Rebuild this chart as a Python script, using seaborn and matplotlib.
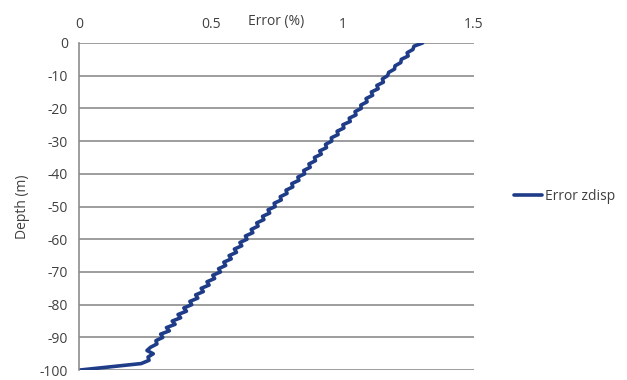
import numpy as np
import pandas as pd
import seaborn as sns
import matplotlib.pyplot as plt

"""
Data read off the chart (depth in m, error in %)
"""
depth = [0, -1, -2, -3, -4, -5, -6, -7, -8, -9,
         -10, -11, -12, -13, -14, -15, -16, -17, -18, -19,
         -20, -21, -22, -23, -24, -25, -26, -27, -28, -29,
         -30, -31, -32, -33, -34, -35, -36, -37, -38, -39,
         -40, -41, -42, -43, -44, -45, -46, -47, -48, -49,
         -50, -51, -52, -53, -54, -55, -56, -57, -58, -59,
         -60, -61, -62, -63, -64, -65, -66, -67, -68, -69,
         -70, -71, -72, -73, -74, -75, -76, -77, -78, -79,
         -80, -81, -82, -83, -84, -85, -86, -87, -88, -89,
         -90, -91, -92, -93, -94, -95, -96, -97, -98, -100]

error_zdisp = [1.305, 1.272, 1.268, 1.246, 1.250, 1.224, 1.222, 1.200, 1.198, 1.176,
               1.172, 1.152, 1.156, 1.131, 1.136, 1.110, 1.115, 1.090, 1.094, 1.070,
               1.072, 1.048, 1.052, 1.026, 1.030, 1.002, 1.006, 0.980, 0.984, 0.958,
               0.960, 0.936, 0.940, 0.914, 0.920, 0.894, 0.898, 0.873, 0.878, 0.853,
               0.857, 0.831, 0.835, 0.808, 0.812, 0.786, 0.790, 0.764, 0.768, 0.741,
               0.745, 0.718, 0.724, 0.697, 0.702, 0.675, 0.680, 0.654, 0.660, 0.632,
               0.638, 0.611, 0.618, 0.590, 0.598, 0.570, 0.578, 0.550, 0.557, 0.530,
               0.537, 0.508, 0.515, 0.486, 0.494, 0.464, 0.472, 0.443, 0.451, 0.421,
               0.428, 0.398, 0.408, 0.376, 0.386, 0.354, 0.365, 0.332, 0.343, 0.310,
               0.318, 0.292, 0.296, 0.272, 0.258, 0.282, 0.262, 0.266, 0.236, 0.0]

x_ticks = [0, 0.5, 1, 1.5]
y_ticks = [0, -10, -20, -30, -40, -50, -60, -70, -80, -90, -100]

df = pd.DataFrame({'Error (%)': error_zdisp, 'Depth (m)': depth})

sns.set_style('white')
plt.rcParams['font.family'] = ['Open Sans', 'DejaVu Sans']
plt.rcParams['axes.unicode_minus'] = False

fig = plt.figure(figsize=(6.27, 3.8), dpi=100)
ax = fig.add_axes([0.126, 0.026, 0.63, 0.861])

sns.lineplot(data=df, x='Error (%)', y='Depth (m)', sort=False, estimator=None,
             color='#1F3C88', linewidth=2.6, label='Error zdisp', ax=ax)

ax.set_xlim(0, 1.5)
ax.set_ylim(-100, 0)
ax.set_xticks(x_ticks)
ax.set_xticklabels(['0', '0.5', '1', '1.5'])
ax.set_yticks(y_ticks)
ax.xaxis.tick_top()
ax.xaxis.set_label_position('top')
ax.tick_params(axis='both', length=0, labelsize=10, colors='#404040', pad=8)
ax.set_xlabel('Error (%)', fontsize=10, color='#404040', labelpad=-16)
ax.xaxis.set_label_coords(0.5, 1.055)
ax.set_ylabel('Depth (m)', fontsize=10, color='#404040', labelpad=7)

ax.yaxis.grid(True, color='#8c8c8c', linewidth=1.2)
ax.set_axisbelow(True)
for s in ['top', 'right', 'bottom']:
    ax.spines[s].set_visible(False)
ax.spines['left'].set_color('#8c8c8c')
ax.spines['left'].set_linewidth(1.2)

ax.legend(loc='center left', bbox_to_anchor=(1.07, 0.53), frameon=False,
          fontsize=10, handlelength=2.0, handletextpad=0.2, labelcolor='#404040')

plt.savefig('out.png', dpi=100)
